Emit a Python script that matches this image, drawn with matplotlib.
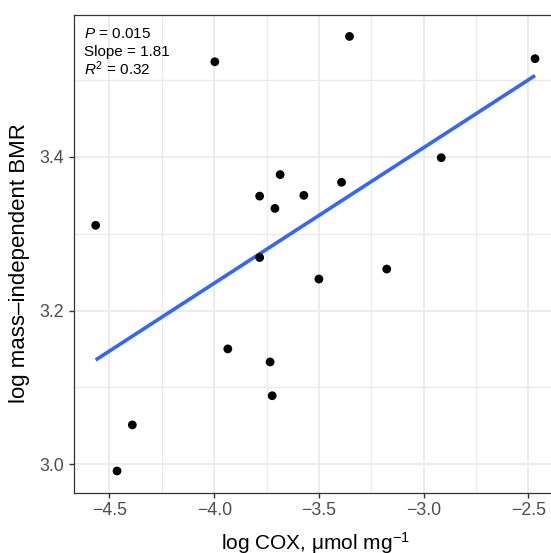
import matplotlib
matplotlib.use("Agg")
import matplotlib.pyplot as plt
import numpy as np
from matplotlib.ticker import MultipleLocator

plt.rcParams["font.family"] = ["Liberation Sans", "DejaVu Sans"]
plt.rcParams["mathtext.fontset"] = "custom"
plt.rcParams["mathtext.rm"] = "Liberation Sans"
plt.rcParams["mathtext.it"] = "Liberation Sans:italic"

# log COX (x) and log mass-independent BMR (y)
log_cox = [-4.566, -4.464, -4.391, -3.997, -3.935, -3.783, -3.783, -3.710, -3.733,
           -3.723, -3.685, -3.572, -3.500, -3.392, -3.354, -3.176, -2.916, -2.468]
log_bmr = [3.311, 2.991, 3.051, 3.524, 3.150, 3.349, 3.269, 3.333, 3.133,
           3.089, 3.377, 3.350, 3.241, 3.367, 3.557, 3.254, 3.399, 3.528]

stats_lines = ["$P$ = 0.015", "Slope = 1.81", "$R^2$ = 0.32"]

x_label = "log COX, μmol mg$^{-1}$"
y_label = "log mass\u2013independent BMR"

x = np.array(log_cox)
y = np.array(log_bmr)

fig = plt.figure(figsize=(5.51, 5.53), dpi=100)
# panel runs a little past the right edge (original figure was cropped)
ax = fig.add_axes([73.7 / 551, 60.3 / 553, 483.3 / 551, 478.0 / 553])

xr = x.max() - x.min()
yr = y.max() - y.min()
ax.set_xlim(x.min() - 0.05 * xr, x.max() + 0.05 * xr)
ax.set_ylim(y.min() - 0.05 * yr, y.max() + 0.05 * yr)

ax.xaxis.set_major_locator(MultipleLocator(0.5))
ax.xaxis.set_minor_locator(MultipleLocator(0.25))
ax.yaxis.set_major_locator(MultipleLocator(0.2))
ax.yaxis.set_minor_locator(MultipleLocator(0.1))
ax.xaxis.set_major_formatter(lambda v, p: f"{v:.1f}".replace("-", "\u2212"))
ax.yaxis.set_major_formatter(lambda v, p: f"{v:.1f}")

ax.grid(which="major", color="#EBEBEB", linewidth=1.3)
ax.grid(which="minor", color="#EBEBEB", linewidth=1.0)
ax.set_axisbelow(True)

for s in ax.spines.values():
    s.set_color("#333333")
    s.set_linewidth(0.9)

ax.tick_params(which="major", length=3.3, width=1.0, color="#333333",
               labelsize=12.8, labelcolor="#4D4D4D", pad=3.5)
ax.tick_params(which="minor", length=0)

# least-squares fit across the data range
slope, intercept = np.polyfit(x, y, 1)
xs = np.array([x.min(), x.max()])
ax.plot(xs, slope * xs + intercept, color="#3366FF", linewidth=2.6,
        solid_capstyle="butt", zorder=2)

ax.scatter(x, y, s=40, color="black", edgecolors="none", zorder=3)

for i, line in enumerate(stats_lines):
    ax.text(0.021, 0.952 - i * 0.039, line, transform=ax.transAxes,
            fontsize=11, color="black", ha="left", va="baseline")

ax.set_xlabel(x_label, fontsize=15, va="baseline")
ax.set_ylabel(y_label, fontsize=16)
ax.xaxis.set_label_coords(0.5, -0.119)
ax.yaxis.set_label_coords(-0.090, 0.48)

fig.savefig("out.png", dpi=100)
